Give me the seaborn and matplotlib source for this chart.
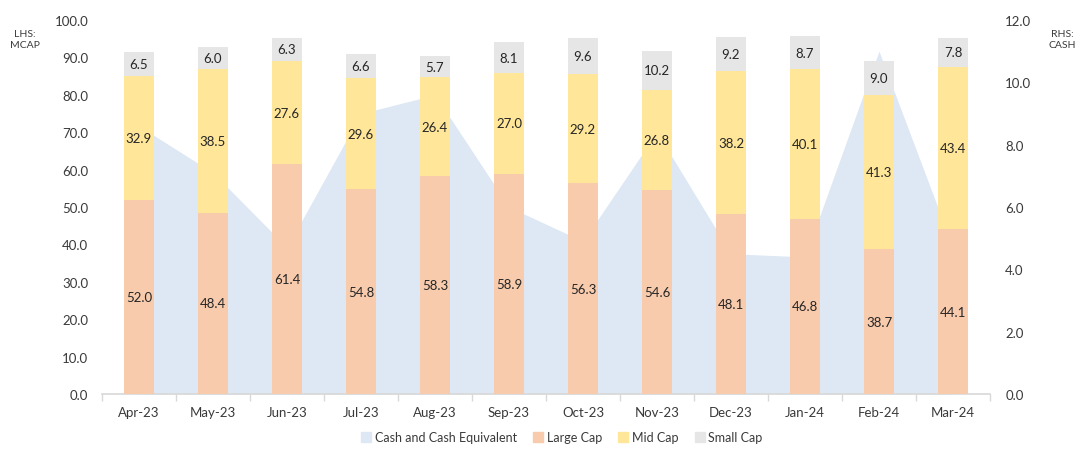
import numpy as np
import pandas as pd
import matplotlib
matplotlib.use("Agg")
import matplotlib.pyplot as plt
from matplotlib.lines import Line2D
import seaborn as sns

months = ["Apr-23", "May-23", "Jun-23", "Jul-23", "Aug-23", "Sep-23",
          "Oct-23", "Nov-23", "Dec-23", "Jan-24", "Feb-24", "Mar-24"]
large_cap = [52.0, 48.4, 61.4, 54.8, 58.3, 58.9, 56.3, 54.6, 48.1, 46.8, 38.7, 44.1]
mid_cap = [32.9, 38.5, 27.6, 29.6, 26.4, 27.0, 29.2, 26.8, 38.2, 40.1, 41.3, 43.4]
small_cap = [6.5, 6.0, 6.3, 6.6, 5.7, 8.1, 9.6, 10.2, 9.2, 8.7, 9.0, 7.8]
cash = [8.6, 7.1, 4.7, 9.0, 9.6, 6.0, 4.9, 8.4, 4.5, 4.4, 11.0, 4.7]
left_ticks = [0, 10, 20, 30, 40, 50, 60, 70, 80, 90, 100]
right_ticks = [0, 2, 4, 6, 8, 10, 12]

C_CASH = "#dde8f4"
C_LARGE = "#f8cbad"
C_MID = "#ffe699"
C_SMALL = "#e7e6e6"
TXT = "#262626"
TICK = "#3a3a3a"

sns.set_theme(style="white")
plt.rcParams["font.family"] = ["Lato", "DejaVu Sans"]

df = pd.DataFrame({"month": months, "large": large_cap, "mid": mid_cap,
                   "small": small_cap, "cash": cash})
df["lm"] = df["large"] + df["mid"]
df["total"] = df["lm"] + df["small"]

fig = plt.figure(figsize=(10.82, 4.56), dpi=100)
ax = fig.add_axes([102 / 1082, 1 - 395 / 456, 888 / 1082, 374 / 456])
ax2 = ax.twinx()

# cash area on the secondary axis (drawn behind the bars)
x = np.arange(len(months))
ax2.fill_between(x, 0, df["cash"], color=C_CASH, linewidth=0)
ax2.set_ylim(0, 12)
ax2.set_yticks(right_ticks)
ax2.set_yticklabels([f"{v:.1f}" for v in right_ticks])
ax2.tick_params(axis="y", length=0, pad=11, labelsize=9.5, labelcolor=TICK)

# stacked bars via overlapping cumulative bars
bw = 0.4
sns.barplot(data=df, x="month", y="total", color=C_SMALL, width=bw, ax=ax,
            saturation=1, linewidth=0, zorder=3)
sns.barplot(data=df, x="month", y="lm", color=C_MID, width=bw, ax=ax,
            saturation=1, linewidth=0, zorder=3)
sns.barplot(data=df, x="month", y="large", color=C_LARGE, width=bw, ax=ax,
            saturation=1, linewidth=0, zorder=3)

ax.set_zorder(ax2.get_zorder() + 1)
ax.patch.set_visible(False)

for i in range(len(months)):
    l, m, s = df["large"][i], df["mid"][i], df["small"][i]
    ax.text(i, l / 2, f"{l:.1f}", ha="center", va="center", fontsize=9.5, color=TXT, zorder=5)
    ax.text(i, l + m / 2, f"{m:.1f}", ha="center", va="center", fontsize=9.5, color=TXT, zorder=5)
    ax.text(i, l + m + s / 2, f"{s:.1f}", ha="center", va="center", fontsize=9.5, color=TXT, zorder=5)

ax.set_ylim(0, 100)
ax.set_xlim(-0.5, len(months) - 0.5)
ax.set_yticks(left_ticks)
ax.set_yticklabels([f"{v:.1f}" for v in left_ticks])
ax.tick_params(axis="y", length=0, pad=10, labelsize=9.5, labelcolor=TICK)
ax.set_xticks(x)
ax.set_xticklabels(months)
ax.set_xticks(np.arange(-0.5, len(months), 1), minor=True)
ax.tick_params(axis="x", which="major", length=0, pad=9, labelsize=9.5, labelcolor=TICK)
ax.tick_params(axis="x", which="minor", length=5, color="#d9d9d9", width=1, direction="out", bottom=True)
ax.set_xlabel("")
ax.set_ylabel("")
ax2.set_ylabel("")

for a in (ax, ax2):
    for side in ("top", "left", "right"):
        a.spines[side].set_visible(False)
ax.spines["bottom"].set_color("#d9d9d9")
ax2.spines["bottom"].set_visible(False)
ax.grid(False)
ax2.grid(False)

fig.text(25 / 1082, 1 - 40 / 456, "LHS:\nMCAP", ha="center", va="center",
         fontsize=7.5, color=TICK, linespacing=1.3)
fig.text(1062 / 1082, 1 - 40 / 456, "RHS:\nCASH", ha="center", va="center",
         fontsize=7.5, color=TICK, linespacing=1.3)

handles = [Line2D([0], [0], marker="s", linestyle="none", markersize=7,
                  markerfacecolor=c, markeredgecolor=c)
           for c in (C_CASH, C_LARGE, C_MID, C_SMALL)]
labels = ["Cash and Cash Equivalent", "Large Cap", "Mid Cap", "Small Cap"]
fig.legend(handles, labels, loc="center", bbox_to_anchor=(0.518, 1 - 438 / 456),
           ncol=4, frameon=False, fontsize=9, handletextpad=0.1,
           handlelength=1.2, columnspacing=1.1, labelcolor=TICK)

fig.savefig("out.png", dpi=100)
